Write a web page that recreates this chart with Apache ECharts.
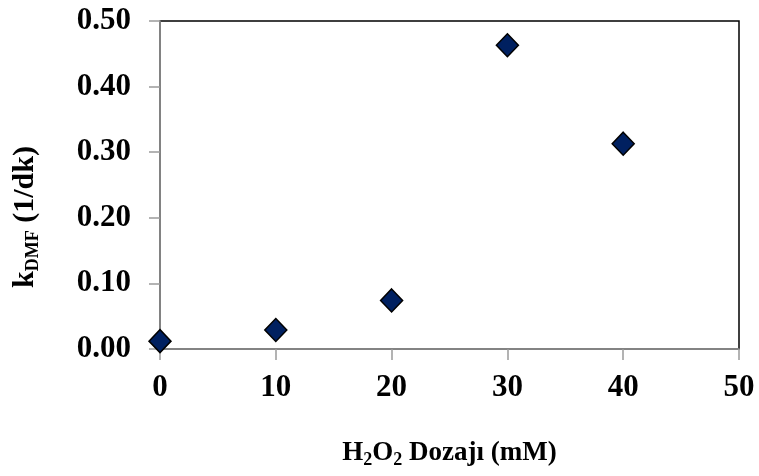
<!DOCTYPE html>
<html>
<head>
<meta charset="utf-8">
<script src="https://cdn.jsdelivr.net/npm/echarts@6/dist/echarts.min.js"></script>
<style>
html,body{margin:0;padding:0;background:#fff;}
#c{width:759px;height:476px;}
</style>
</head>
<body>
<div id="c"></div>
<script>
const doses = [0, 10, 20, 30, 40];
const kValues = [0.012, 0.029, 0.074, 0.463, 0.313];
const xTicks = [0, 10, 20, 30, 40, 50];
const yTicks = [0.00, 0.10, 0.20, 0.30, 0.40, 0.50];

const font = 'Liberation Serif, Times New Roman, serif';
const chart = echarts.init(document.getElementById('c'));
chart.setOption({
  backgroundColor: '#fff',
  animation: false,
  grid: {
    left: 160, right: 20, top: 21, bottom: 127,
    show: true, borderColor: '#000', borderWidth: 1.5, backgroundColor: 'transparent'
  },
  xAxis: {
    type: 'value',
    min: xTicks[0], max: xTicks[xTicks.length - 1], interval: 10,
    name: '{n|H}{s|2}{n|O}{s|2}{n| Dozajı (mM)}',
    nameLocation: 'middle',
    nameGap: 88,
    nameTextStyle: {
      rich: {
        n: {fontFamily: font, fontWeight: 'bold', fontSize: 27, color: '#000'},
        s: {fontFamily: font, fontWeight: 'bold', fontSize: 18, color: '#000', padding: [14, 0, 0, 0]}
      }
    },
    axisLine: {show: true, lineStyle: {color: '#9a9a9a', width: 1.5}},
    axisTick: {show: true, inside: false, length: 11, lineStyle: {color: '#9a9a9a', width: 1.5}},
    axisLabel: {fontFamily: font, fontWeight: 'bold', fontSize: 31, color: '#000', margin: 23},
    splitLine: {show: false}
  },
  yAxis: {
    type: 'value',
    min: yTicks[0], max: yTicks[yTicks.length - 1], interval: 0.1,
    name: '{n|k}{s|DMF}{n| (1/dk)}',
    nameLocation: 'middle',
    nameGap: 118,
    nameRotate: 90,
    nameTextStyle: {
      padding: [0, 64, 0, 0],
      rich: {
        n: {fontFamily: font, fontWeight: 'bold', fontSize: 30, color: '#000'},
        s: {fontFamily: font, fontWeight: 'bold', fontSize: 18, color: '#000', padding: [15, 0, 0, 0]}
      }
    },
    axisLine: {show: true, lineStyle: {color: '#9a9a9a', width: 1.5}},
    axisTick: {show: true, inside: false, length: 11, lineStyle: {color: '#9a9a9a', width: 1.5}},
    axisLabel: {fontFamily: font, fontWeight: 'bold', fontSize: 31, color: '#000', margin: 29,
      formatter: v => v.toFixed(2)},
    splitLine: {show: false}
  },
  series: [{
    type: 'scatter',
    data: doses.map((d, i) => [d, kValues[i]]),
    symbol: 'diamond',
    symbolSize: [22, 23],
    itemStyle: {color: '#002060', borderColor: '#000', borderWidth: 1.5, opacity: 1},
    clip: false
  }]
});
</script>
</body>
</html>
